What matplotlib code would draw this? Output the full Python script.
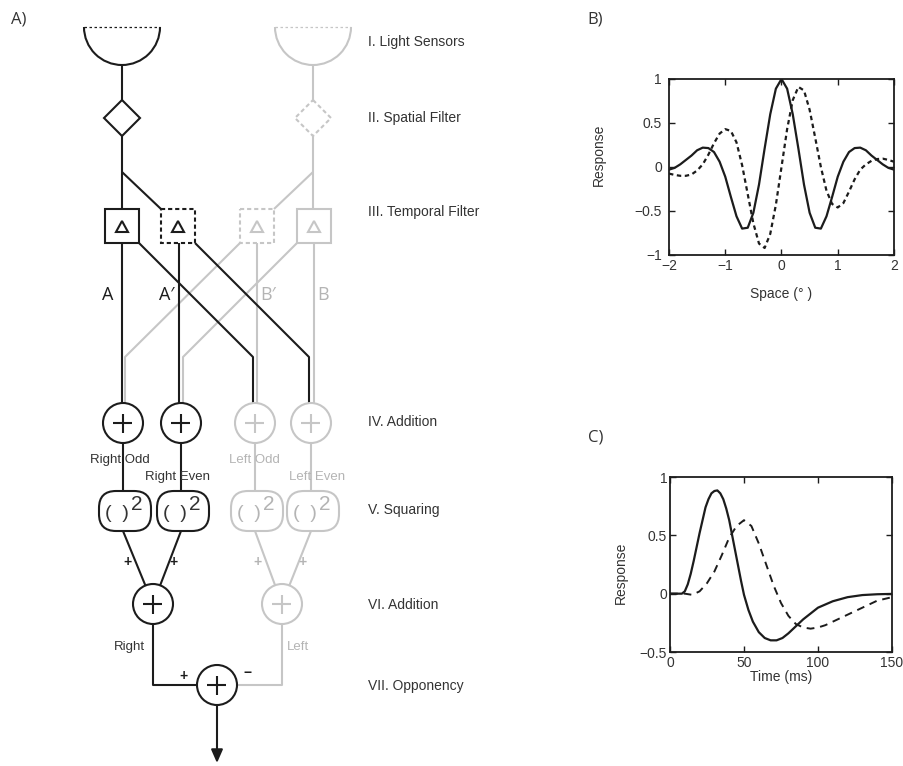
"""Motion detector schematic (A) with spatial (B) and temporal (C) filter kernels."""
import matplotlib
matplotlib.use("Agg")
import matplotlib.pyplot as plt
from matplotlib.patches import Arc, Circle, FancyBboxPatch, Polygon, Rectangle

plt.rcParams["font.family"] = ["Liberation Sans", "DejaVu Sans"]

# ---- data ------------------------------------------------------------------
# B) spatial filters: even (solid) and odd (dotted) kernels
space_deg = [-2.0, -1.9, -1.8, -1.7, -1.6, -1.5, -1.4, -1.3, -1.2, -1.1, -1.0,
             -0.9, -0.8, -0.7, -0.6, -0.5, -0.4, -0.3, -0.2, -0.1, 0.0,
             0.1, 0.2, 0.3, 0.4, 0.5, 0.6, 0.7, 0.8, 0.9, 1.0,
             1.1, 1.2, 1.3, 1.4, 1.5, 1.6, 1.7, 1.8, 1.9, 2.0]
even_resp = [-0.03, -0.01, 0.03, 0.08, 0.13, 0.19, 0.22, 0.215, 0.17, 0.06, -0.11,
             -0.34, -0.56, -0.70, -0.69, -0.52, -0.20, 0.21, 0.60, 0.89, 1.00,
             0.89, 0.60, 0.21, -0.20, -0.52, -0.69, -0.70, -0.56, -0.34, -0.11,
             0.06, 0.17, 0.215, 0.22, 0.19, 0.13, 0.08, 0.03, -0.01, -0.03]
odd_resp = [-0.075, -0.09, -0.10, -0.10, -0.085, -0.04, 0.03, 0.14, 0.27, 0.38, 0.43,
            0.41, 0.28, 0.02, -0.31, -0.64, -0.87, -0.92, -0.76, -0.43, 0.0,
            0.43, 0.76, 0.91, 0.87, 0.65, 0.33, 0.0, -0.27, -0.42, -0.46,
            -0.41, -0.28, -0.14, -0.03, 0.03, 0.07, 0.09, 0.095, 0.08, 0.06]
space_ticks = [-2, -1, 0, 1, 2]
space_ticklabels = ["\u22122", "\u22121", "0", "1", "2"]
spaceresp_ticks = [-1, -0.5, 0, 0.5, 1]
spaceresp_ticklabels = ["\u22121", "\u22120.5", "0", "0.5", "1"]

# C) temporal filters: fast (solid) and delayed (dashed)
fast_t = [0, 5, 8, 10, 12, 14, 16, 18, 20, 22, 24, 26, 28, 30, 32, 34, 36, 38, 40,
          42, 44, 46, 48, 50, 53, 56, 60, 64, 68, 72, 76, 80, 85, 90, 95, 100,
          110, 120, 130, 140, 150]
fast_resp = [0, 0, 0, 0.02, 0.08, 0.17, 0.28, 0.40, 0.52, 0.63, 0.74, 0.81, 0.86,
             0.88, 0.885, 0.86, 0.81, 0.73, 0.63, 0.50, 0.37, 0.24, 0.11, -0.01,
             -0.14, -0.24, -0.33, -0.38, -0.40, -0.40, -0.38, -0.34, -0.28, -0.22,
             -0.17, -0.12, -0.065, -0.03, -0.012, -0.005, -0.002]
slow_t = [0, 5, 10, 15, 20, 25, 30, 35, 40, 45, 50, 55, 60, 65, 70, 75, 80, 85,
          90, 95, 100, 105, 110, 115, 120, 125, 130, 135, 140, 145, 150]
slow_resp = [0, 0, 0, -0.01, 0.02, 0.09, 0.19, 0.33, 0.48, 0.58, 0.63, 0.58, 0.43,
             0.25, 0.07, -0.08, -0.19, -0.26, -0.29, -0.30, -0.29, -0.27, -0.24,
             -0.21, -0.18, -0.15, -0.12, -0.09, -0.06, -0.045, -0.03]
time_ticks = [0, 50, 100, 150]
time_ticklabels = ["0", "50", "100", "150"]
timeresp_ticks = [-0.5, 0, 0.5, 1]
timeresp_ticklabels = ["\u22120.5", "0", "0.5", "1"]

# A) labels
stage_labels = ["I. Light Sensors", "II. Spatial Filter", "III. Temporal Filter",
                "IV. Addition", "V. Squaring", "VI. Addition", "VII. Opponency"]
channel_labels = ["A", "A\u2032", "B\u2032", "B"]
sum_labels = ["Right Odd", "Right Even", "Left Odd", "Left Even"]
side_labels = ["Right", "Left"]

# ---- layout (pixels, y downwards) ------------------------------------------
INK, FAINT = "#1c1c1c", "#c6c6c6"
TXT, FAINT_TXT = "#333333", "#b4b4b4"
LW = 1.5
SHORT_DASH = (0, (2.0, 1.4))
LETTER_FONT = ["Open Sans", "DejaVu Sans"]

SENSOR_X, SENSOR_TOP, SENSOR_R = [122, 313], 27, 38
DIAMOND_Y, DIAMOND_H = 118, 18
BRANCH_Y = 172
BOX_X, BOX_Y, BOX_H = [122, 178, 257, 314], 226, 17
KNEE_Y = 357
SUM_X, SUM_Y, R, ARM = [123, 181, 255, 311], 423, 20, 9.5
SQ_Y, SQ_W, SQ_H = 511, 52, 40
PAIR_X, PAIR_Y = [153, 282], 604
OPP_X, OPP_Y = 217, 685
ROW_X = 368
ROW_Y = [42, 118, 212, 422, 510, 605, 686]

fig = plt.figure(figsize=(9.04, 7.66), dpi=100)
ax = fig.add_axes([0, 0, 1, 1])
ax.set_xlim(0, 904)
ax.set_ylim(766, 0)
ax.axis("off")


def line(xs, ys, color, z=2, lw=LW):
    ax.plot(xs, ys, color=color, lw=lw, zorder=z, solid_capstyle="butt")


def adder(x, y, color):
    ax.add_patch(Circle((x, y), R, facecolor="white", edgecolor=color, lw=LW, zorder=4))
    line([x - ARM, x + ARM], [y, y], color, z=5)
    line([x, x], [y - ARM, y + ARM], color, z=5)


# I + II: sensors, spatial filters, branching to temporal filters
for i, (sx, col) in enumerate(zip(SENSOR_X, [INK, FAINT])):
    z = 2 if col == INK else 1
    ax.add_patch(Arc((sx, SENSOR_TOP), 2 * SENSOR_R, 2 * SENSOR_R, theta1=0, theta2=180,
                     color=col, lw=LW, zorder=3))
    ax.plot([sx - SENSOR_R, sx + SENSOR_R], [SENSOR_TOP, SENSOR_TOP], color=col,
            lw=0.9, ls=(0, (2, 2)), zorder=3)
    line([sx, sx], [SENSOR_TOP + SENSOR_R, BOX_Y - BOX_H], col, z=z)
    d = DIAMOND_H
    ax.add_patch(Polygon([(sx, DIAMOND_Y - d), (sx + d, DIAMOND_Y), (sx, DIAMOND_Y + d),
                          (sx - d, DIAMOND_Y)], closed=True, facecolor="white",
                         edgecolor=col, lw=LW, ls="-" if i == 0 else SHORT_DASH, zorder=3))
line([SENSOR_X[0], BOX_X[1] - BOX_H], [BRANCH_Y, BOX_Y - BOX_H], INK)
line([SENSOR_X[1], BOX_X[2] + BOX_H], [BRANCH_Y, BOX_Y - BOX_H], FAINT, z=1)

# III: temporal filters
box_style = [(INK, "-"), (INK, SHORT_DASH), (FAINT, SHORT_DASH), (FAINT, "-")]
for bx, (col, ls) in zip(BOX_X, box_style):
    ax.add_patch(Rectangle((bx - BOX_H, BOX_Y - BOX_H), 2 * BOX_H, 2 * BOX_H,
                           facecolor="white", edgecolor=col, lw=LW, ls=ls, zorder=3))
    ax.add_patch(Polygon([(bx - 6, BOX_Y + 6), (bx + 6, BOX_Y + 6), (bx, BOX_Y - 5)],
                         closed=True, fill=False, edgecolor=col, lw=LW, zorder=4))

bot = BOX_Y + BOX_H
# faint cross connections (drawn under the black ones)
line([BOX_X[2] - BOX_H, SUM_X[0] + 2, SUM_X[0] + 2], [bot, KNEE_Y, SUM_Y], FAINT, z=1)
line([BOX_X[3] - BOX_H, SUM_X[1] + 2, SUM_X[1] + 2], [bot, KNEE_Y, SUM_Y], FAINT, z=1)
line([BOX_X[2], BOX_X[2]], [bot, SUM_Y], FAINT, z=1)
line([BOX_X[3], BOX_X[3]], [bot, SUM_Y], FAINT, z=1)
# black connections
line([BOX_X[0], BOX_X[0]], [bot, SUM_Y], INK)
line([BOX_X[1] + 1, BOX_X[1] + 1], [bot, SUM_Y], INK)
line([BOX_X[0] + BOX_H, SUM_X[2] - 2, SUM_X[2] - 2], [bot, KNEE_Y, SUM_Y], INK)
line([BOX_X[1] + BOX_H, SUM_X[3] - 2, SUM_X[3] - 2], [bot, KNEE_Y, SUM_Y], INK)

label_x = [108, 167, 268, 323]
for lx, lab, col in zip(label_x, channel_labels, [INK, INK, FAINT_TXT, FAINT_TXT]):
    ax.text(lx, 295, lab, ha="center", va="center", fontsize=13, color=col,
            family=LETTER_FONT, zorder=6)

# IV: first addition stage, V: squaring
cols4 = [INK, INK, FAINT, FAINT]
for k, (cx, col) in enumerate(zip(SUM_X, cols4)):
    z = 2 if col == INK else 1
    adder(cx, SUM_Y, col)
    line([cx, cx], [SUM_Y, SQ_Y], col, z=z)
    ax.add_patch(FancyBboxPatch((cx + 2 - SQ_W / 2, SQ_Y - SQ_H / 2), SQ_W, SQ_H,
                                boxstyle="round,pad=0,rounding_size=17",
                                facecolor="white", edgecolor=col, lw=LW, zorder=4))
    tcol = TXT if col == INK else FAINT_TXT
    ax.text(cx - 6, SQ_Y + 3, "(  )", ha="center", va="center", fontsize=14,
            color=tcol, zorder=5)
    ax.text(cx + 14, SQ_Y - 7, "2", ha="center", va="center", fontsize=15,
            color=tcol, zorder=5)
    pair = PAIR_X[k // 2]
    line([cx, pair], [SQ_Y + SQ_H / 2, PAIR_Y], col, z=z)

sum_lab_pos = [(120, 460), (178, 477), (254, 460), (317, 477)]
for (lx, ly), lab, col in zip(sum_lab_pos, sum_labels, [TXT, TXT, FAINT_TXT, FAINT_TXT]):
    ax.text(lx, ly, lab, ha="center", va="center", fontsize=9.5, color=col, zorder=6)

plus_pos = [(128, 562), (174, 562), (258, 562), (303, 562)]
for (px, py), col in zip(plus_pos, [INK, INK, FAINT_TXT, FAINT_TXT]):
    ax.text(px, py, "+", ha="center", va="center", fontsize=10, fontweight="bold",
            color=col, zorder=6)

# VI: second addition, VII: opponency
for px, col, lab, lx in zip(PAIR_X, [INK, FAINT], side_labels, [129, 298]):
    z = 2 if col == INK else 1
    adder(px, PAIR_Y, col)
    line([px, px, OPP_X], [PAIR_Y, OPP_Y, OPP_Y], col, z=z)
    ax.text(lx, 647, lab, ha="center", va="center", fontsize=9.5,
            color=TXT if col == INK else FAINT_TXT, zorder=6)
adder(OPP_X, OPP_Y, INK)
ax.text(184, 676, "+", ha="center", va="center", fontsize=10, fontweight="bold", color=INK)
ax.text(248, 673, "\u2212", ha="center", va="center", fontsize=10, fontweight="bold",
        color=INK)
ax.annotate("", xy=(OPP_X, 763), xytext=(OPP_X, OPP_Y + R),
            arrowprops=dict(arrowstyle="-|>,head_length=0.8,head_width=0.35",
                            color=INK, lw=LW, shrinkA=0, shrinkB=0))

for y, lab in zip(ROW_Y, stage_labels):
    ax.text(ROW_X, y, lab, ha="left", va="center", fontsize=10, color=TXT)

ax.text(11, 19, "A)", ha="left", va="center", fontsize=12, color=TXT, family=LETTER_FONT)
ax.text(587, 19, "B)", ha="left", va="center", fontsize=12, color=TXT, family=LETTER_FONT)
ax.text(588, 438, "C)", ha="left", va="center", fontsize=12, color=TXT, family=LETTER_FONT)


def style_axes(a, ypad):
    a.tick_params(direction="in", top=True, right=True, length=4, width=1,
                  labelsize=10, colors=INK, labelcolor=TXT)
    a.tick_params(axis="x", pad=3)
    a.tick_params(axis="y", pad=ypad)
    for s in a.spines.values():
        s.set_linewidth(1.3)
        s.set_color(INK)


# B) spatial kernels
axb = fig.add_axes([669 / 904, 1 - 255 / 766, 225 / 904, 176 / 766])
axb.plot(space_deg, even_resp, color=INK, lw=1.6)
axb.plot(space_deg, odd_resp, color=INK, lw=1.6, ls=(0, (2, 1.6)))
axb.set_xlim(-2, 2)
axb.set_ylim(-1, 1)
axb.set_xticks(space_ticks, space_ticklabels)
axb.set_yticks(spaceresp_ticks, spaceresp_ticklabels)
style_axes(axb, 5)
axb.set_xlabel("Space (\u00b0 )", fontsize=10, color=TXT)
axb.set_ylabel("Response", fontsize=10, color=TXT)
axb.xaxis.set_label_coords(0.5, -0.18)
axb.yaxis.set_label_coords(-0.28, 0.57)

# C) temporal kernels
axc = fig.add_axes([670 / 904, 1 - 652 / 766, 222 / 904, 175 / 766])
axc.plot(fast_t, fast_resp, color=INK, lw=1.6)
axc.plot(slow_t, slow_resp, color=INK, lw=1.4, ls=(0, (4, 3)))
axc.set_xlim(0, 150)
axc.set_ylim(-0.5, 1)
axc.set_xticks(time_ticks, time_ticklabels)
axc.set_yticks(timeresp_ticks, timeresp_ticklabels)
style_axes(axc, 2)
axc.set_xlabel("Time (ms)", fontsize=10, color=TXT)
axc.set_ylabel("Response", fontsize=10, color=TXT)
axc.xaxis.set_label_coords(0.5, -0.105)
axc.yaxis.set_label_coords(-0.19, 0.45)

fig.savefig("out.png", dpi=100)
